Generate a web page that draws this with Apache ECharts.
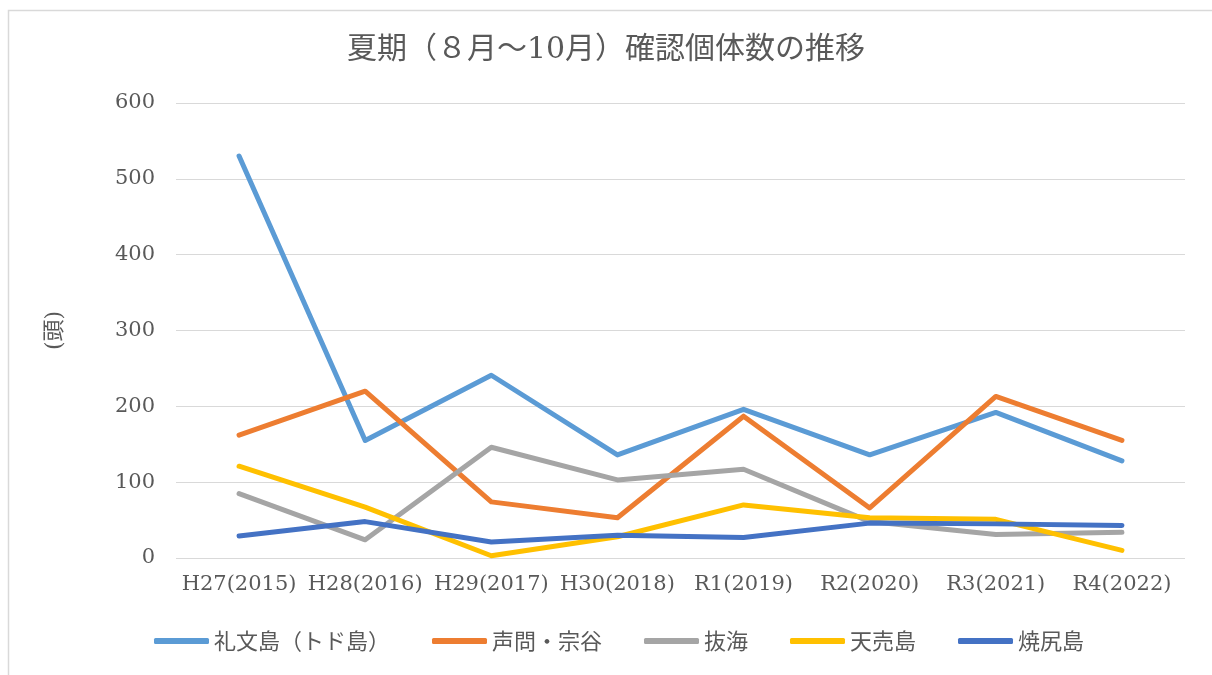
<!DOCTYPE html>
<html>
<head>
<meta charset="utf-8">
<script src="https://cdn.jsdelivr.net/npm/echarts@6/dist/echarts.min.js"></script>
<style>
html,body{margin:0;padding:0;background:#fff;}
#chart{width:1212px;height:675px;}
</style>
</head>
<body>
<div id="chart"></div>
<script>
const categories = ['H27(2015)','H28(2016)','H29(2017)','H30(2018)','R1(2019)','R2(2020)','R3(2021)','R4(2022)'];
const seriesNames = ['礼文島（トド島）','声問・宗谷','抜海','天売島','焼尻島'];
const rebun     = [530, 155, 241, 136, 196, 136, 192, 128];
const koetoi    = [162, 220,  74,  53, 187,  66, 213, 155];
const bakkai    = [ 85,  24, 146, 103, 117,  48,  31,  34];
const teuri     = [121,  67,   3,  28,  70,  53,  51,  10];
const yagishiri = [ 29,  48,  21,  30,  27,  46,  45,  43];
const seriesData = [rebun, koetoi, bakkai, teuri, yagishiri];
const colors = ['#5B9BD5','#ED7D31','#A5A5A5','#FFC000','#4472C4'];
const titleText = '夏期（８月～10月）確認個体数の推移';
const yAxisName = '(頭)';

const serif = '"DejaVu Serif", "Noto Sans CJK JP", serif';
const textColor = '#595959';

const chart = echarts.init(document.getElementById('chart'), null, {renderer:'canvas'});
chart.setOption({
  animation: false,
  backgroundColor: '#fff',
  color: colors,
  graphic: [{
    type: 'rect', left: 6, top: 8, z: -1,
    shape: {width: 1300, height: 700},
    style: {fill: 'none', stroke: '#d9d9d9', lineWidth: 1.5}
  }],
  title: {
    text: titleText,
    left: 'center',
    top: 30,
    textStyle: {fontFamily: serif, fontSize: 30, fontWeight: 'normal', color: textColor}
  },
  legend: {
    data: seriesNames,
    left: 149,
    top: 625,
    itemWidth: 55,
    itemHeight: 6,
    itemGap: 42,
    icon: 'roundRect',
    textStyle: {fontFamily: '"Noto Sans CJK JP", sans-serif', fontSize: 22, color: textColor}
  },
  grid: {left: 176, right: 27, top: 103, bottom: 117, containLabel: false},
  xAxis: {
    type: 'category',
    data: categories,
    boundaryGap: true,
    axisLine: {show: false},
    axisTick: {show: false},
    axisLabel: {fontFamily: serif, fontSize: 21, color: textColor, margin: 16, interval: 0}
  },
  yAxis: {
    type: 'value',
    min: 0, max: 600, interval: 100,
    name: yAxisName,
    nameLocation: 'middle',
    nameGap: 110,
    nameRotate: 90,
    nameTextStyle: {fontFamily: serif, fontSize: 22, color: textColor},
    axisLine: {show: false},
    axisTick: {show: false},
    axisLabel: {fontFamily: serif, fontSize: 21, color: textColor, margin: 21},
    splitLine: {lineStyle: {color: '#d9d9d9', width: 1.2}}
  },
  series: seriesNames.map((name, i) => ({
    name: name,
    type: 'line',
    data: seriesData[i],
    showSymbol: false,
    symbol: 'none',
    smooth: false,
    lineStyle: {width: 5, color: colors[i], cap: 'round', join: 'round'},
    itemStyle: {color: colors[i]}
  }))
});
</script>
</body>
</html>
